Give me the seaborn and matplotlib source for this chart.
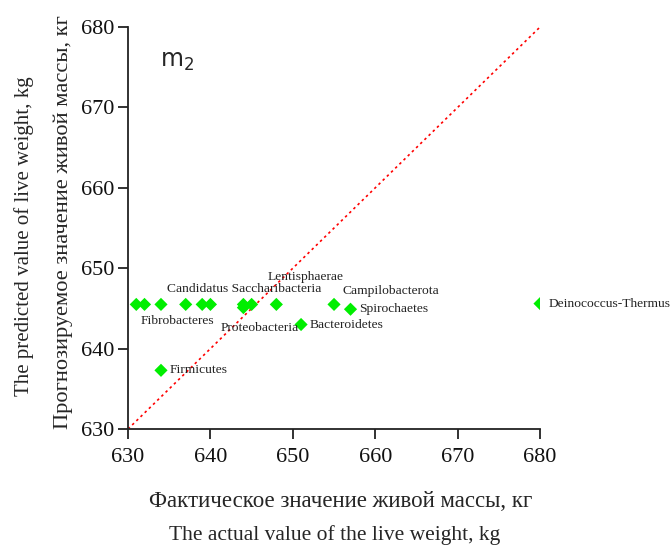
import matplotlib
matplotlib.use('Agg')
import matplotlib.pyplot as plt
import seaborn as sns
import pandas as pd

actual = [631, 632, 634, 637, 639, 640, 644, 644, 645, 648, 655, 657, 651, 634, 680]
predicted = [645.5, 645.5, 645.5, 645.5, 645.5, 645.5, 645.5, 645.1, 645.5, 645.5, 645.5, 644.9, 643.0, 637.3, 645.6]
names = ['', '', 'Fibrobacteres', '', '', 'Candidatus Saccharibacteria', 'Proteobacteria', '', '',
         'Lentisphaerae', 'Campilobacterota', 'Spirochaetes', 'Bacteroidetes', 'Firmicutes',
         'Deinococcus-Thermus']
# label offsets in points (dx, dy) and horizontal alignment
offsets = [(0, 0), (0, 0), (12, -12), (0, 0), (0, 0), (24, 11), (12, -17), (0, 0), (0, 0),
           (21, 20), (41, 10), (6, 0), (6, 0), (6, 0), (6.5, 0)]
aligns = ['center', 'center', 'center', 'center', 'center', 'center', 'center', 'center', 'center',
          'center', 'center', 'left', 'left', 'left', 'left']

df = pd.DataFrame({'actual': actual, 'predicted': predicted})

sns.set_style('ticks')
plt.rcParams['font.family'] = ['Liberation Serif', 'DejaVu Serif']

fig = plt.figure(figsize=(6.71, 5.45), dpi=100)
ax = fig.add_axes([0.1908, 0.2128, 0.614, 0.7376])

ax.plot([630, 680], [630, 680], color='red', linestyle=(0, (1.5, 2)), linewidth=1.2, zorder=1)
sns.scatterplot(data=df, x='actual', y='predicted', marker='D', s=45, color='#00EE00',
                edgecolor='none', ax=ax, zorder=3)

for x, y, n, (dx, dy), ha in zip(actual, predicted, names, offsets, aligns):
    if n:
        ax.annotate(n, (x, y), xytext=(dx, dy), textcoords='offset points',
                    ha=ha, va='center', fontsize=9.7, color='#222222')

ax.set_xlim(630, 680)
ax.set_ylim(630, 680)
ax.set_xticks(range(630, 681, 10))
ax.set_yticks(range(630, 681, 10))
ax.tick_params(labelsize=16, length=7, width=1.3, color='#222222', labelcolor='#111111')
ax.tick_params(axis='x', pad=7)
ax.tick_params(axis='y', pad=3)
for s in ['left', 'bottom']:
    ax.spines[s].set_linewidth(1.3)
    ax.spines[s].set_color('#222222')
sns.despine(ax=ax)
ax.set_xlabel('')
ax.set_ylabel('')

ax.text(0.0777, 0.9005, 'm$_2$', transform=ax.transAxes, fontsize=17, family='DejaVu Sans',
        ha='left', va='baseline')

fig.text(0.0946, 0.593, 'Прогнозируемое значение живой массы, кг', rotation=90,
         ha='center', va='center', fontsize=16.2)
fig.text(0.0358, 0.567, 'The predicted value of live weight, kg', rotation=90,
         ha='center', va='center', fontsize=15)
fig.text(0.507, 0.0697, 'Фактическое значение живой массы, кг', ha='center', va='baseline', fontsize=16.5)
fig.text(0.4985, 0.0092, 'The actual value of the live weight, kg', ha='center', va='baseline', fontsize=15.5)

fig.savefig('out.png', dpi=100)
